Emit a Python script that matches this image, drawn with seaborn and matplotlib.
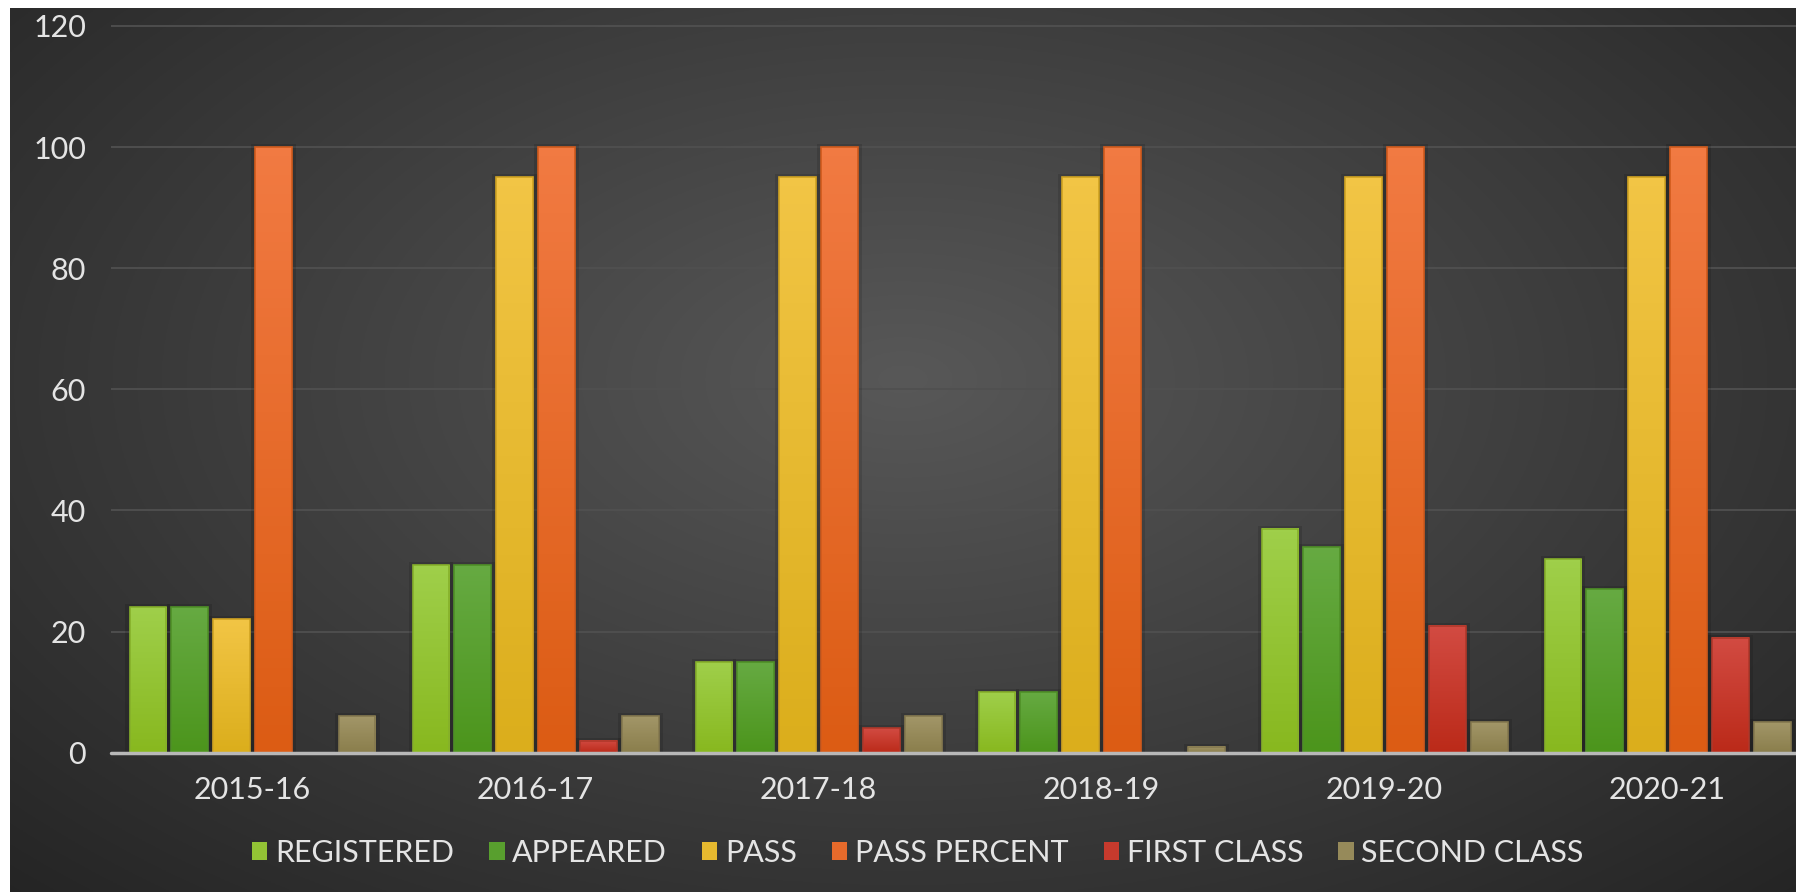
import numpy as np
import pandas as pd
import matplotlib
matplotlib.use("Agg")
import matplotlib.pyplot as plt
import matplotlib.colors as mcolors
from matplotlib.patches import Patch, Rectangle
import seaborn as sns

# ---- data ----
years = ["2015-16", "2016-17", "2017-18", "2018-19", "2019-20", "2020-21"]
registered = [24, 31, 15, 10, 37, 32]
appeared = [24, 31, 15, 10, 34, 27]
passed = [22, 95, 95, 95, 95, 95]
pass_percent = [100, 100, 100, 100, 100, 100]
first_class = [0, 2, 4, 0, 21, 19]
second_class = [6, 6, 6, 1, 5, 5]
series_names = ["REGISTERED", "APPEARED", "PASS", "PASS PERCENT", "FIRST CLASS", "SECOND CLASS"]

# colori: (alto, basso) per il gradiente delle barre
top_colors = ["#9fcf4a", "#66aa42", "#f2c545", "#f17a42", "#d24b42", "#a29668"]
bottom_colors = ["#88b81f", "#4c951c", "#dbae1c", "#dc5c14", "#bb2a19", "#8a7e4c"]
mid_colors = ["#93c335", "#589f2e", "#e6b92f", "#e66a2b", "#c73a2d", "#968a5a"]
edge_colors = ["#86b02a", "#4f9027", "#d0a322", "#d05a1c", "#b0382a", "#85794f"]

df = pd.DataFrame({"year": years * 6,
                   "value": registered + appeared + passed + pass_percent + first_class + second_class,
                   "series": [s for s in series_names for _ in years]})

sns.set_theme(style="dark")
plt.rcParams["font.family"] = ["Lato", "DejaVu Sans"]

W, H = 1796, 892
fig = plt.figure(figsize=(W / 100, H / 100), dpi=100)
fig.patch.set_facecolor("white")

# sfondo con gradiente radiale
bg = fig.add_axes([10 / W, 0, 1 - 10 / W, 1 - 8 / H])
bg.axis("off")
yy, xx = np.mgrid[0:1:400j, 0:1:800j]
r = np.sqrt(((xx - 0.5) / 1.0) ** 2 + ((yy - 0.42) / 1.15) ** 2)
t = np.clip(r / 0.72, 0, 1)
light = np.array([0x58, 0x58, 0x58]) / 255
dark = np.array([0x24, 0x24, 0x24]) / 255
img = light[None, None, :] * (1 - t[..., None]) + dark[None, None, :] * t[..., None]
bg.imshow(img, aspect="auto", extent=[0, 1, 0, 1], origin="upper")
bg.set_xlim(0, 1)
bg.set_ylim(0, 1)

# assi principali
y_bot = 1 - 752.7 / H
y_top = 1 - 19.9 / H
ax = fig.add_axes([111 / W, y_bot, 1 - 111 / W, y_top - y_bot])
ax.patch.set_alpha(0)

sns.barplot(data=df, x="year", y="value", hue="series", palette=mid_colors,
            width=0.89, gap=0.14, saturation=1, legend=False, linewidth=0, ax=ax)

px_x = 1 / 282.7   # unita' dati per pixel (x)
px_y = 121 / 733   # unita' dati per pixel (y)

# gradiente verticale dentro ogni barra + bordo e ombra
for p in list(ax.patches):
    fc = p.get_facecolor()
    k = int(np.argmin([np.sum(np.abs(np.array(fc[:3]) - np.array(mcolors.to_rgb(c)))) for c in mid_colors]))
    x0, y0 = p.get_x(), p.get_y()
    w, h = p.get_width(), p.get_height()
    if h <= 0:
        continue
    ax.add_patch(Rectangle((x0 - 4 * px_x, y0), w + 8 * px_x, h + 3 * px_y,
                           facecolor="black", alpha=0.12, lw=0, zorder=2.5))
    cm = mcolors.LinearSegmentedColormap.from_list("g", [top_colors[k], bottom_colors[k]])
    ax.imshow(np.linspace(0, 1, 64).reshape(-1, 1), cmap=cm, aspect="auto",
              extent=[x0, x0 + w, y0, y0 + h], origin="upper", zorder=3)
    ax.add_patch(Rectangle((x0, y0), w, h, fill=False, edgecolor=edge_colors[k],
                           lw=1.2, zorder=4))

ax.set_xlim(-0.5, 5.5 - (1809 - W) / 282.7)
ax.set_ylim(0, 121)
ax.set_yticks([0, 20, 40, 60, 80, 100, 120])
ax.yaxis.grid(True, color="#505050", lw=1.3)
ax.xaxis.grid(False)
ax.set_axisbelow(True)
ax.axhline(0, color="#b8b8b8", lw=2.5, zorder=5, clip_on=False)
sns.despine(ax=ax, left=True, bottom=True)
ax.set_xlabel("")
ax.set_ylabel("")
ax.tick_params(axis="y", length=0, pad=18, labelsize=22, labelcolor="#e4e4e4")
ax.tick_params(axis="x", length=0, pad=17, labelsize=22, labelcolor="#e4e4e4")

handles = [Patch(facecolor=c, edgecolor="none", label=s) for c, s in zip(mid_colors, series_names)]
leg = fig.legend(handles=handles, loc="center", bbox_to_anchor=(918 / W, 1 - 853 / H), ncol=6,
                 frameon=False, fontsize=22, handlelength=0.5, handleheight=0.5,
                 handletextpad=0.25, columnspacing=1.15)
for txt in leg.get_texts():
    txt.set_color("#e4e4e4")

fig.savefig("out.png", dpi=100)
